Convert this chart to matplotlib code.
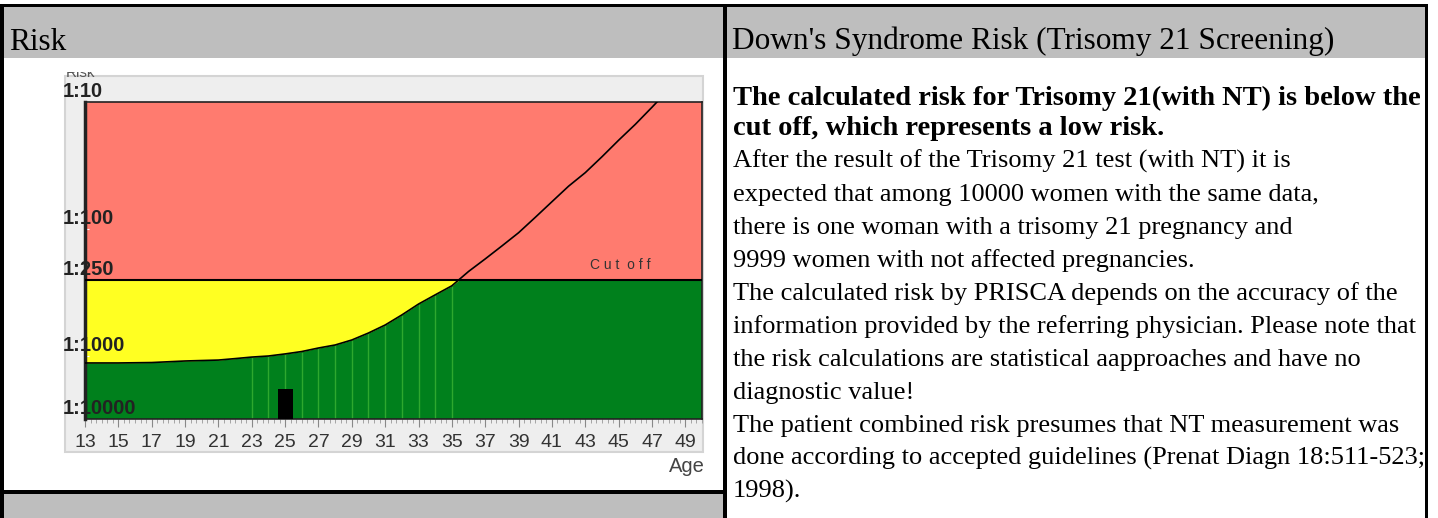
import numpy as np
import matplotlib.pyplot as plt
from matplotlib.patches import Rectangle

# Trisomy 21 risk curve by maternal age (1:n)
ages = [13, 15, 17, 19, 21, 22, 23, 24, 25, 26, 27, 28, 29, 30, 31, 32, 33, 34, 35,
        36, 37, 38, 39, 40, 41, 42, 43, 44, 45, 46, 47, 48]
risk = [1290, 1290, 1270, 1200, 1160, 1100, 1040, 1000, 963, 922, 865, 819, 748, 659,
        570, 475, 390, 330, 280, 216, 172, 136, 107, 81, 61, 46, 36, 27, 20, 15, 11, 8]
cutoff = 250
patient_age = 25
patient_mark = 3300

y_ticks = [10, 100, 250, 1000, 10000]
y_labels = ['1:10', '1:100', '1:250', '1:1000', '1:10000']
x_ticks = list(range(13, 50, 2))

left_title = "Risk"
right_title = "Down's Syndrome Risk (Trisomy 21 Screening)"
headline = ["The calculated risk for Trisomy 21(with NT) is below the",
            "cut off, which represents a low risk."]
body = ["After the result of the Trisomy 21 test (with NT) it is",
        "expected that among 10000 women with the same data,",
        "there is one woman with a trisomy 21 pregnancy and",
        "9999 women with not affected pregnancies.",
        "The calculated risk by PRISCA depends on the accuracy of the",
        "information provided by the referring physician. Please note that",
        "the risk calculations are statistical aapproaches and have no",
        "diagnostic value!",
        "The patient combined risk presumes that NT measurement was",
        "done according to accepted guidelines (Prenat Diagn 18:511-523;",
        "1998)."]

RED = '#FF7B6F'
YELLOW = '#FFFF22'
GREEN = '#00801C'
LIGHTGREEN = '#2EA82E'
HEADER = '#BEBEBE'

W, H = 1438, 518
fig = plt.figure(figsize=(W / 100, H / 100), dpi=100)

# page layer in pixel coordinates
page = fig.add_axes([0, 0, 1, 1], zorder=0)
page.set_xlim(0, W)
page.set_ylim(H, 0)
page.set_axis_off()

def box(x0, y0, x1, y1, color, **kw):
    page.add_patch(Rectangle((x0, y0), x1 - x0, y1 - y0, facecolor=color,
                             edgecolor=kw.pop('edgecolor', 'none'), **kw))

box(4, 7, 723, 58, HEADER)
box(727, 7, 1425, 58, HEADER)
box(4, 494, 723, 518, HEADER)
box(0, 4, 1428, 7, 'black')
box(0, 4, 4, 518, 'black')
box(723, 4, 727, 518, 'black')
box(1425, 4, 1428, 518, 'black')
box(0, 490, 723, 494, 'black')

serif = 'Liberation Serif'
page.text(9, 50, left_title, fontsize=22.5, family=serif, va='baseline')
page.text(732, 49, right_title, fontsize=22.5, family=serif, va='baseline')
for i, line in enumerate(headline):
    page.text(733, 105 + i * 30, line, fontsize=20.5, family=serif,
              weight='bold', va='baseline')
for i, line in enumerate(body):
    page.text(733, 168 + i * 33, line, fontsize=19, family=serif, va='baseline')

# chart picture background
page.add_patch(Rectangle((65, 76), 638, 376, facecolor='#EEEEEE', edgecolor='#D4D4D4', lw=1.5))
clip = Rectangle((65, 72), 638, 380, transform=page.transData)
t = page.text(66, 77, 'Risk', fontsize=11, color='#555555', family='Liberation Sans',
              va='baseline')
t.set_clip_on(True)
t.set_clip_path(clip)
page.text(705, 472, 'Age', fontsize=14.5, color='#444444', family='Liberation Sans',
          ha='right', va='baseline')

# chart
ax = fig.add_axes([85 / W, (H - 419) / H, 617 / W, 317 / H], zorder=1)

k = 63 / 127

def fwd(v):
    l = np.log10(np.clip(v, 1e-9, None))
    return np.where(l <= 3, l, 3 + (l - 3) * k)

def inv(p):
    return np.where(p <= 3, 10.0 ** p, 10.0 ** (3 + (p - 3) / k))

ax.set_yscale('function', functions=(fwd, inv))
ax.set_xlim(13, 50)
ax.set_ylim(10000, 10)

a = np.array(ages, dtype=float)
r = np.array(risk, dtype=float)
ax.axhspan(10, cutoff, color=RED, lw=0)
ax.axhspan(cutoff, 10000, color=GREEN, lw=0)
ax.fill_between(a, cutoff, r, where=r > cutoff, interpolate=True, color=YELLOW, lw=0)
sel = (a >= 23) & (a <= 35)
ax.vlines(a[sel], 10000, r[sel], color=LIGHTGREEN, lw=1, zorder=2)
ax.bar(patient_age, patient_mark - 10000, bottom=10000, width=0.9, color='black', zorder=3)
ax.axhline(cutoff, color='black', lw=1.5, zorder=4)
ax.plot(a, r, color='black', lw=1.2, zorder=5)
ax.text(45.1, 192, 'C u t  o f f', fontsize=10, color='#333333', family='Liberation Sans',
        ha='center', va='center')

ax.set_xticks(x_ticks)
ax.set_xticks(np.arange(13, 50.01, 1 / 3), minor=True)
ax.tick_params(axis='x', which='major', length=6, color='#888888', labelcolor='#333333',
               labelsize=14, pad=5)
ax.tick_params(axis='x', which='minor', length=3, color='#999999')
for lab in ax.get_xticklabels():
    lab.set_family('Liberation Sans')

ax.set_yticks(y_ticks)
ax.yaxis.set_minor_locator(plt.NullLocator())
ax.set_yticklabels([])
ax.tick_params(axis='y', length=3, color='white', direction='in')
for v, lbl in zip(y_ticks, y_labels):
    ax.annotate(lbl, xy=(0, v), xycoords=ax.get_yaxis_transform(), xytext=(-22, 1),
                textcoords='offset pixels', ha='left', va='bottom', fontsize=14.5,
                weight='bold', color='#222222', family='Liberation Sans',
                annotation_clip=False)

for s in ax.spines.values():
    s.set_color('#222222')
    s.set_linewidth(1.2)
ax.spines['left'].set_linewidth(2.5)

fig.savefig('out.png', dpi=100)
